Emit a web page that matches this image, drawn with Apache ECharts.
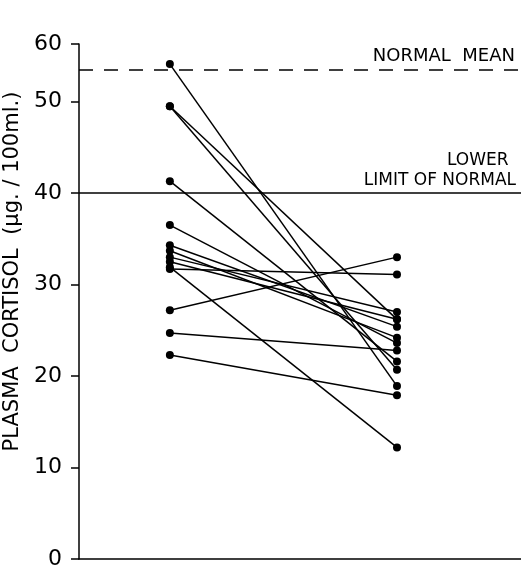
<!DOCTYPE html>
<html><head><meta charset="utf-8">
<script src="https://cdn.jsdelivr.net/npm/echarts@6/dist/echarts.min.js"></script>
<style>html,body{margin:0;padding:0;background:#fff}#c{width:521px;height:566px}</style>
</head><body><div id="c"></div>
<script>
// Plasma cortisol (µg./100 ml.) for each subject: before (left) and after (right)
const timepoints = [1, 2];
const beforeValues = [54.1, 49.5, 49.5, 41.3, 36.5, 34.3, 33.7, 33.0, 32.5, 31.9, 31.7, 27.2, 24.7, 22.3];
const afterValues  = [18.9, 26.2, 20.7, 21.6, 23.6, 25.4, 24.2, 27.0, 26.2, 12.2, 31.1, 33.0, 22.8, 17.9];
const normalMean = 53.5;
const lowerLimit = 40;
const yTicks = [0, 10, 20, 30, 40, 50, 60];
const yAxisTop = 56.3;

const FONT = 'DejaVu Sans';
const series = beforeValues.map((b, i) => ({
  type: 'line',
  data: [[timepoints[0], b], [timepoints[1], afterValues[i]]],
  symbol: 'circle', symbolSize: 8,
  lineStyle: { color: '#000', width: 1.5 },
  itemStyle: { color: '#000' },
  silent: true, animation: false
}));
series.push({
  type: 'line', data: [], silent: true, animation: false,
  markLine: {
    symbol: 'none', silent: true, animation: false,
    label: { show: false },
    data: [
      { yAxis: normalMean, lineStyle: { type: [14, 11], color: '#000', width: 1.6 } },
      { yAxis: lowerLimit, lineStyle: { type: 'solid', color: '#000', width: 1.6 } }
    ]
  }
});

const chart = echarts.init(document.getElementById('c'), null, { renderer: 'canvas' });
chart.setOption({
  backgroundColor: '#fff',
  animation: false,
  grid: { left: 79, right: 0, top: 44, bottom: 7, containLabel: false, outerBoundsMode: 'none' },
  xAxis: {
    type: 'value', min: 0.6, max: 2.546,
    axisLine: { show: true, lineStyle: { color: '#000', width: 1.5 } },
    axisTick: { show: false }, axisLabel: { show: false }, splitLine: { show: false }
  },
  yAxis: {
    type: 'value', min: 0, max: yAxisTop, interval: 10,
    name: 'PLASMA  CORTISOL  (µg. / 100ml.)',
    nameLocation: 'middle', nameGap: 40, nameRotate: 90,
    nameTextStyle: { fontFamily: FONT, fontSize: 21, color: '#000', padding: [0, 0, 0, 60] },
    axisLine: { show: true, lineStyle: { color: '#000', width: 1.5 } },
    axisTick: { show: true, inside: false, length: 8, lineStyle: { color: '#000', width: 1.5 } },
    axisLabel: {
      fontFamily: FONT, fontSize: 22, color: '#000', margin: 17, showMaxLabel: true,
      formatter: v => {
        if (v >= yAxisTop - 0.01) return String(yTicks[yTicks.length - 1]);
        return yTicks.indexOf(v) >= 0 ? String(v) : '';
      }
    },
    splitLine: { show: false }
  },
  graphic: [
    { type: 'text', right: 6, top: 47, style: { text: 'NORMAL  MEAN', font: '18px "DejaVu Sans"', fill: '#000' } },
    { type: 'text', left: 447, top: 152, style: { text: 'LOWER', font: '17px "DejaVu Sans"', fill: '#000', textAlign: 'center' } },
    { type: 'text', right: 5, top: 172, style: { text: 'LIMIT OF NORMAL', font: '17px "DejaVu Sans"', fill: '#000' } }
  ],
  series: series
});
</script></body></html>
